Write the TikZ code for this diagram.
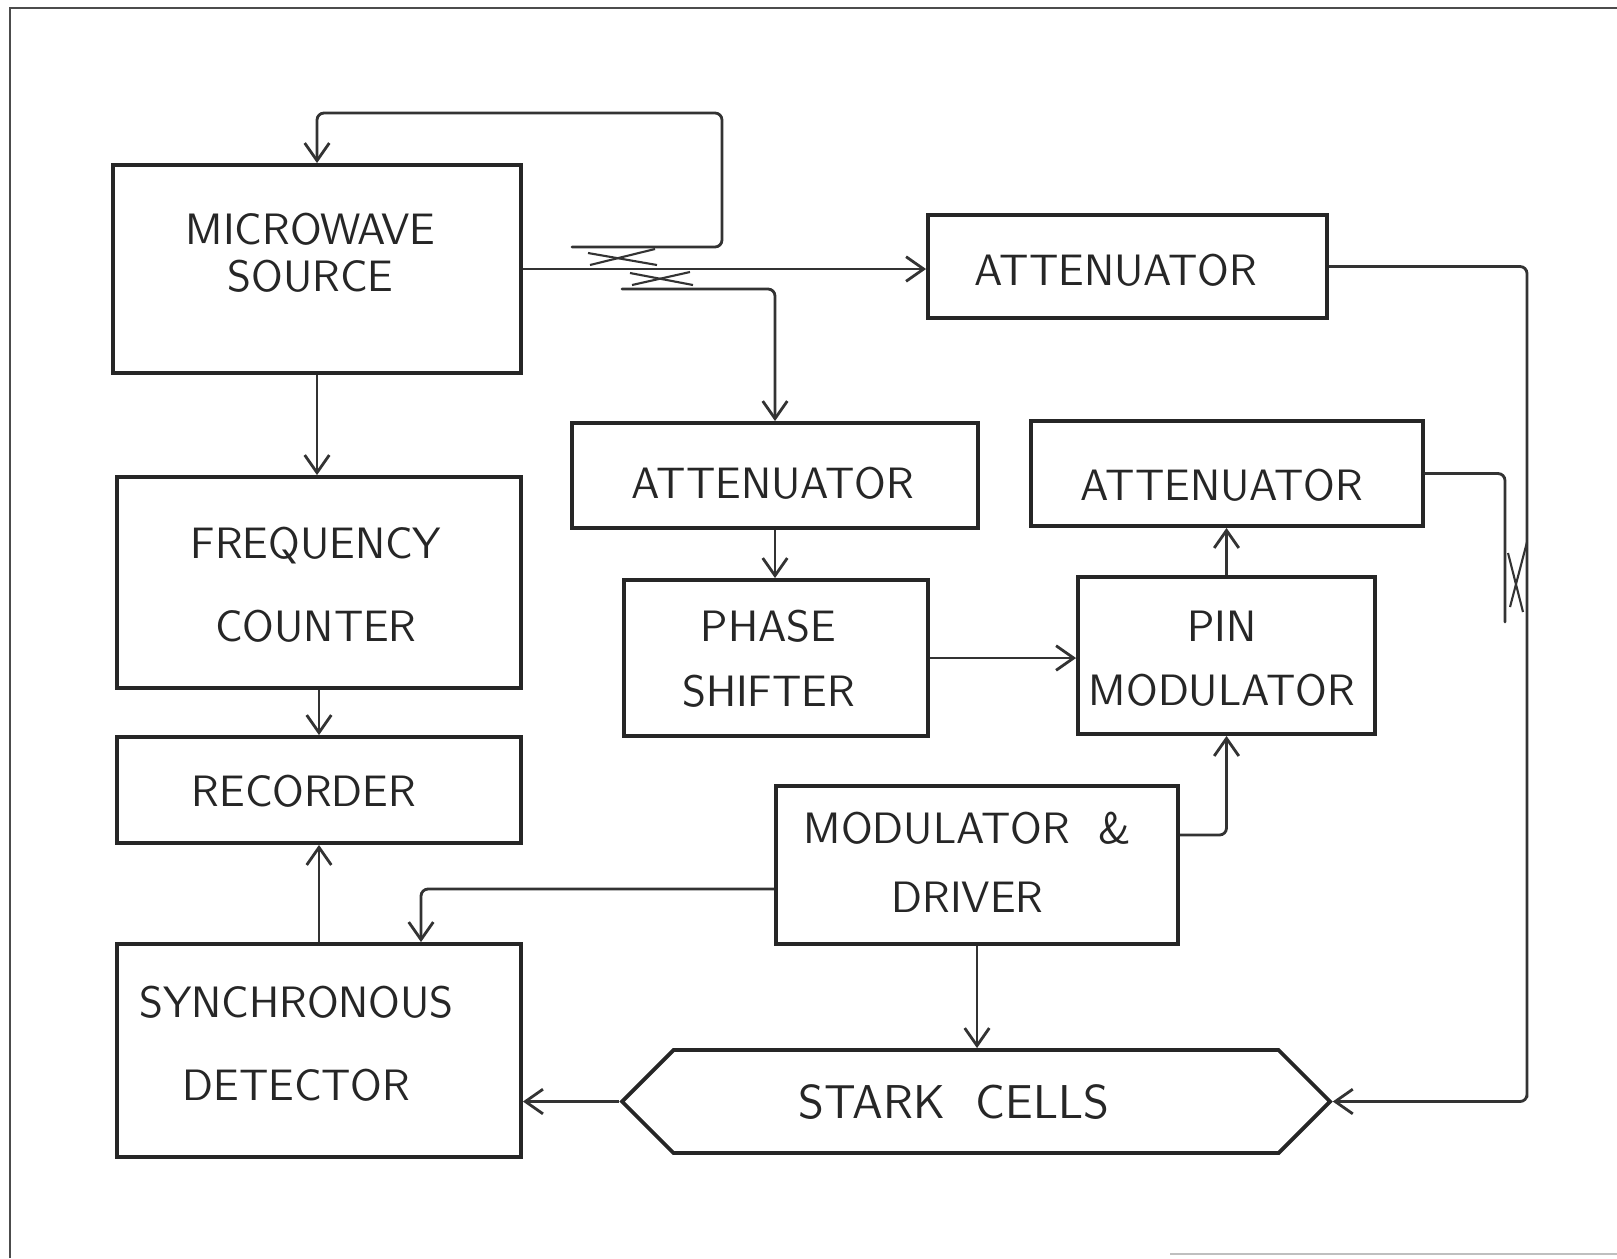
\documentclass[tikz,border=0pt]{standalone}
\usetikzlibrary{arrows.meta,shapes.symbols}

\begin{document}
\begin{tikzpicture}[x=1cm,y=-1cm,
	box/.style={draw=black!85,line width=1.1pt},
	txt/.style={font=\fontsize{12.5}{15}\selectfont\sffamily,align=center,text=black!85},
	wire/.style={draw=black!80,line width=0.8pt,rounded corners=2pt},
	arr/.style={wire,-{Straight Barb[length=5pt,width=7pt]}}]
	\useasboundingbox (0,0) rectangle (16.17,12.58);
	\draw[black!70,line width=0.8pt] (0.10,12.58) -- (0.10,0.08) -- (16.17,0.08);
	\draw[black!25,line width=0.5pt] (11.70,12.54) -- (16.17,12.54);

	\node[box,minimum width=4.08cm,minimum height=2.08cm] (src) at (3.17,2.69) {};
	\node[box,minimum width=4.04cm,minimum height=2.11cm] (frq) at (3.19,5.825) {};
	\node[box,minimum width=4.04cm,minimum height=1.06cm] (rec) at (3.19,7.90) {};
	\node[box,minimum width=4.04cm,minimum height=2.13cm] (syn) at (3.19,10.505) {};
	\node[box,minimum width=3.99cm,minimum height=1.03cm] (at1) at (11.275,2.665) {};
	\node[box,minimum width=4.06cm,minimum height=1.05cm] (at2) at (7.75,4.755) {};
	\node[box,minimum width=3.92cm,minimum height=1.05cm] (at3) at (12.27,4.735) {};
	\node[box,minimum width=3.04cm,minimum height=1.56cm] (phs) at (7.76,6.58) {};
	\node[box,minimum width=2.97cm,minimum height=1.57cm] (pin) at (12.265,6.555) {};
	\node[box,minimum width=4.02cm,minimum height=1.58cm] (mod) at (9.77,8.65) {};
	\node[box,signal,signal to=west and east,signal pointer angle=90,
		minimum width=7.08cm,minimum height=1.03cm] (stk) at (9.76,11.015) {};

	\node[txt] (srcT) at (3.105,2.525) {MICROWAVE\\[-1.6pt]SOURCE};
	\node[txt] (frqT) at (3.16,5.845) {FREQUENCY\\[8.5pt]COUNTER};
	\node[txt] (recT) at (3.04,7.91) {RECORDER};
	\node[txt] (synT) at (2.965,10.435) {SYNCHRONOUS\\[8.5pt]DETECTOR};
	\node[txt] (at1T) at (11.16,2.70) {ATTENUATOR};
	\node[txt] (at2T) at (7.73,4.83) {ATTENUATOR};
	\node[txt] (at3T) at (12.22,4.85) {ATTENUATOR};
	\node[txt] (phsT) at (7.685,6.585) {PHASE\\[3.5pt]SHIFTER};
	\node[txt] (pinT) at (12.22,6.59) {PIN\\[3.2pt]MODULATOR};
	\node[txt] (modT) at (9.675,8.625) {MODULATOR\ \ \&\\[4.6pt]DRIVER};
	\node[txt,font=\fontsize{13.5}{16}\selectfont\sffamily] (stkT) at (9.54,11.02) {STARK\ \ CELLS};

	\coordinate (cpA) at (5.72,2.47);
	\coordinate (cpB) at (7.22,1.13);
	\coordinate (cpC) at (6.22,2.89);
	\coordinate (cpD) at (15.05,6.22);
	\coordinate (cpR) at (15.27,11.015);

	\draw[arr] (src) -- (src |- frq.north);
	\draw[arr] (frq) -- (frq |- rec.north);
	\draw[arr] (syn) -- (syn |- rec.south);
	\draw[arr] (src.east) -- (src.east -| at1.west);
	\draw[arr,line cap=round] (cpA) -| (cpB) -| (src.north);
	\draw[arr,line cap=round] (cpC) -| (at2.north);
	\draw[arr] (at1.east) -| (cpR) |- (stk.east);
	\draw[wire,line cap=round] (at3.east) -| (cpD);
	\draw[arr] (at2) -- (at2 |- phs.north);
	\draw[arr] (phs) -- (phs -| pin.west);
	\draw[arr] (pin) -- (pin |- at3.south);
	\draw[arr] ([yshift=0.30cm]mod.east) -| (pin.south);
	\draw[arr] ([yshift=-0.24cm]mod.west) -| ([xshift=1.02cm]syn.north);
	\draw[arr] (mod) -- (mod |- stk.north);
	\draw[arr] (stk.west) -- (stk.west -| syn.east);

	\draw[black!80,line width=0.6pt] (5.88,2.53) -- (6.57,2.65);
	\draw[black!80,line width=0.6pt] (5.90,2.65) -- (6.55,2.49);
	\draw[black!80,line width=0.6pt] (6.30,2.73) -- (6.93,2.85);
	\draw[black!80,line width=0.6pt] (6.32,2.85) -- (6.90,2.72);
	\draw[black!80,line width=0.6pt] (15.08,5.53) -- (15.23,6.12);
	\draw[black!80,line width=0.6pt] (15.27,5.42) -- (15.10,6.07);
\end{tikzpicture}
\end{document}
